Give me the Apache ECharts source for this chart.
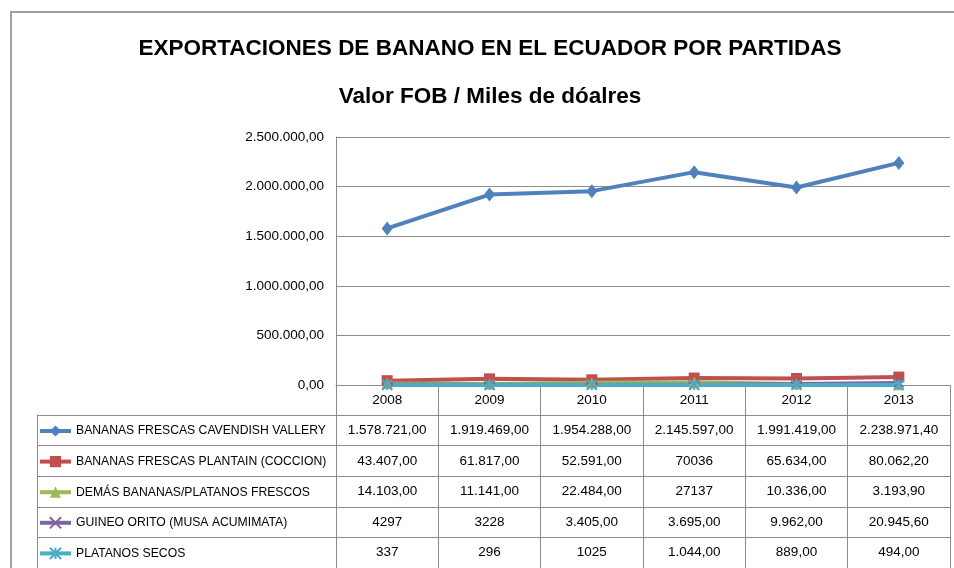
<!DOCTYPE html>
<html>
<head>
<meta charset="utf-8">
<script src="https://cdn.jsdelivr.net/npm/echarts@6/dist/echarts.min.js"></script>
<style>
  html, body { margin: 0; padding: 0; background: #fff; }
  #main { width: 954px; height: 568px; }
</style>
</head>
<body>
<div id="main"></div>
<script>
    var years = ['2008', '2009', '2010', '2011', '2012', '2013'];
    var seriesNames = [
        'BANANAS FRESCAS CAVENDISH VALLERY',
        'BANANAS FRESCAS PLANTAIN (COCCION)',
        'DEMÁS BANANAS/PLATANOS FRESCOS',
        'GUINEO ORITO (MUSA ACUMIMATA)',
        'PLATANOS SECOS'
    ];
    // valores tal como aparecen en la tabla
    var cavendish = ['1.578.721,00', '1.919.469,00', '1.954.288,00', '2.145.597,00', '1.991.419,00', '2.238.971,40'];
    var plantain  = ['43.407,00', '61.817,00', '52.591,00', '70036', '65.634,00', '80.062,20'];
    var demas     = ['14.103,00', '11.141,00', '22.484,00', '27137', '10.336,00', '3.193,90'];
    var guineo    = ['4297', '3228', '3.405,00', '3.695,00', '9.962,00', '20.945,60'];
    var secos     = ['337', '296', '1025', '1.044,00', '889,00', '494,00'];
    var tableRows = [cavendish, plantain, demas, guineo, secos];

    var colors = ['#4F81BD', '#C0504D', '#9BBB59', '#8064A2', '#4BACC6'];
    var symbols = [
        'diamond',
        'rect',
        'triangle',
        'path://M0,0L10,10M10,0L0,10',
        'path://M5,0L5,10M0,0L10,10M10,0L0,10'
    ];
    var symbolSizes = [[11, 14], 11, 11, 9, 10];

    var font = "'Liberation Sans', Arial, sans-serif";
    var lineGray = '#8c8c8c';

    function toNum(s) {
        return parseFloat(s.replace(/\./g, '').replace(',', '.'));
    }
    function fmt(v) {
        var p = Number(v).toFixed(2).split('.');
        return p[0].replace(/\B(?=(\d{3})+(?!\d))/g, '.') + ',' + p[1];
    }

    var myChart = echarts.init(document.getElementById('main'));

    var series = [];
    for (var i = 0; i < tableRows.length; i++) {
        series.push({
            name: seriesNames[i],
            type: 'line',
            xAxisIndex: 0,
            yAxisIndex: 0,
            data: tableRows[i].map(toNum),
            symbol: symbols[i],
            symbolSize: symbolSizes[i],
            showAllSymbol: true,
            lineStyle: { width: 4, color: colors[i] },
            itemStyle: { color: colors[i], borderColor: colors[i], borderWidth: i >= 3 ? 2 : 0 },
            animation: false
        });
    }

    var xAxes = [{
        type: 'category',
        gridIndex: 0,
        data: years,
        boundaryGap: true,
        axisLine: { lineStyle: { color: lineGray, width: 1 } },
        axisTick: { show: true, length: 183, lineStyle: { color: lineGray } },
        axisLabel: { margin: 8, fontSize: 13.5, color: '#000', fontFamily: font }
    }];
    // filas de la tabla de datos bajo el eje
    for (var k = 0; k < tableRows.length; k++) {
        xAxes.push({
            type: 'category',
            gridIndex: 0,
            position: 'bottom',
            offset: 30.3 + 30.6 * k,
            data: tableRows[k],
            axisLine: { show: false },
            axisTick: { show: false },
            axisLabel: { interval: 0, margin: 8, fontSize: 13.5, color: '#000', fontFamily: font }
        });
    }
    xAxes.push({ type: 'value', gridIndex: 1, show: false });

    myChart.setOption({
        backgroundColor: '#fff',
        title: {
            text: 'EXPORTACIONES DE BANANO EN EL ECUADOR POR PARTIDAS\nValor FOB / Miles de dóalres',
            left: 485,
            top: 20,
            textAlign: 'center',
            textStyle: { fontSize: 22.5, fontWeight: 'bold', color: '#000', fontFamily: font, lineHeight: 48 }
        },
        legend: {
            orient: 'vertical',
            left: 38,
            top: 424,
            padding: 0,
            itemWidth: 31,
            itemHeight: 14,
            itemGap: 16.6,
            data: seriesNames,
            lineStyle: { width: 4 },
            textStyle: { fontSize: 12.2, color: '#000', fontFamily: font, lineHeight: 14 }
        },
        graphic: [{
            type: 'rect',
            shape: { x: 11, y: 12, width: 980, height: 600 },
            style: { fill: 'none', stroke: '#a0a0a0', lineWidth: 2 },
            silent: true
        }],
        grid: [{
            left: 336,
            right: 4,
            top: 137,
            bottom: 183
        }, {
            left: 37,
            right: 4,
            top: 415,
            height: 153
        }],
        xAxis: xAxes,
        yAxis: [{
            type: 'value',
            gridIndex: 0,
            min: 0,
            max: 2500000,
            interval: 500000,
            axisLine: { show: true, lineStyle: { color: lineGray } },
            axisTick: { show: false },
            splitLine: { lineStyle: { color: lineGray } },
            axisLabel: { formatter: fmt, margin: 12, fontSize: 13.5, color: '#000', fontFamily: font }
        }, {
            type: 'category',
            gridIndex: 1,
            data: seriesNames,
            inverse: true,
            axisLine: { show: true, lineStyle: { color: lineGray } },
            axisTick: { show: false },
            axisLabel: { show: false },
            splitLine: { show: true, lineStyle: { color: lineGray } }
        }],
        series: series
    });
</script>
</body>
</html>
